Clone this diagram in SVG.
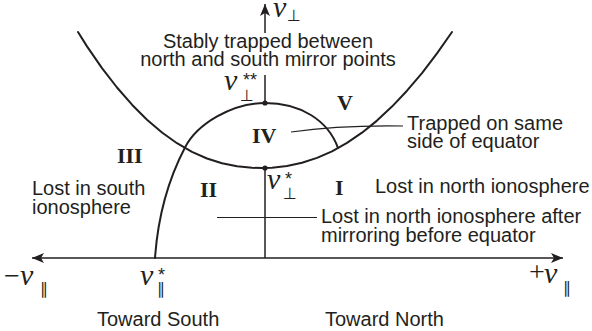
<svg xmlns="http://www.w3.org/2000/svg" width="592" height="331" viewBox="0 0 592 331">
<defs>
<marker id="ah" viewBox="0 0 12 10" refX="12" refY="5" markerWidth="12" markerHeight="10" markerUnits="userSpaceOnUse" orient="auto-start-reverse"><path d="M0,0 L12,5 L0,10 L3,5 z" fill="#231f20"/></marker>
</defs>
<style>
.txt{font-family:"Liberation Sans",Arial,sans-serif;font-size:20px;fill:#231f20}
.rn{font-family:"Liberation Serif","Times New Roman",serif;font-weight:bold;font-size:22px;fill:#231f20}
.m{font-family:"Liberation Serif","Times New Roman",serif;font-size:30px;fill:#231f20}
.v{font-style:italic}
.op{font-style:normal;font-size:28px}
.ast{font-family:"Liberation Sans",Arial,sans-serif;font-style:normal;font-size:18px}
.sym{font-family:"DejaVu Sans",sans-serif;font-style:normal;font-size:16px}
.curve{fill:none;stroke:#231f20;stroke-width:2;stroke-linejoin:round;stroke-linecap:round}
.axis{fill:none;stroke:#231f20;stroke-width:1.5}
.lead{fill:none;stroke:#231f20;stroke-width:1.2}
</style>
<rect width="592" height="331" fill="#ffffff"/>

<g id="connectors">
  <line class="axis" x1="32" y1="258" x2="563" y2="258" marker-start="url(#ah)" marker-end="url(#ah)"/>
  <line class="axis" x1="265" y1="33" x2="265" y2="4" marker-end="url(#ah)"/>
  <line class="axis" x1="265" y1="75" x2="265" y2="103"/>
  <line class="axis" x1="265" y1="168" x2="265" y2="258"/>
  <path class="lead" d="M291,132 Q340,125 403,126"/>
  <line class="lead" x1="217" y1="217.5" x2="317" y2="217.5"/>
</g>

<g id="boundary-parabola">
  <polyline class="curve" points="78,32 87,46.4 102,68.1 117,87.5 132,104.7 147,119.7 162,132.5 177,143.2 192,151.8 207,158.5 222,163.3 237,166.3 252,167.8 262,168 272,167.7 287,166.1 302,162.8 317,157.9 332,151.3 347,142.9 362,132.7 377,120.6 392,106.6 407,90.7 422,73.1 437,53.3 452,32"/>
</g>
<g id="boundary-inner">
  <path class="curve" d="M155,258 C158,215 168,180 185,147.5 C197,124 232,103 265,103 C300,103 328,120 338,148"/>
  <circle cx="265" cy="103" r="2.6" fill="#231f20"/>
  <circle cx="265" cy="168" r="2.6" fill="#231f20"/>
</g>

<g id="axis-labels">
  <text class="m"><tspan class="v" x="273" y="17">v</tspan><tspan class="sym" x="287" y="21">⊥</tspan></text>
  <text class="m"><tspan class="v" x="224" y="90">v</tspan><tspan class="ast" x="243" y="86">**</tspan><tspan class="sym" x="240" y="101">⊥</tspan></text>
  <text class="m"><tspan class="v" x="267" y="189">v</tspan><tspan class="ast" x="285" y="185">*</tspan><tspan class="sym" x="283" y="199">⊥</tspan></text>
  <text class="m"><tspan class="op" x="4" y="285">−</tspan><tspan class="v" x="20" y="285">v</tspan><tspan class="sym" x="40" y="294">∥</tspan></text>
  <text class="m"><tspan class="v" x="140" y="285">v</tspan><tspan class="ast" x="158" y="281">*</tspan><tspan class="sym" x="157" y="294">∥</tspan></text>
  <text class="m"><tspan class="op" x="529" y="281">+</tspan><tspan class="v" x="544" y="283">v</tspan><tspan class="sym" x="563" y="293">∥</tspan></text>
</g>

<g id="region-I"><text class="rn" x="335" y="195">I</text></g>
<g id="region-II"><text class="rn" x="200" y="197">II</text></g>
<g id="region-III"><text class="rn" x="117" y="163">III</text></g>
<g id="region-IV"><text class="rn" x="252" y="143">IV</text></g>
<g id="region-V"><text class="rn" x="337" y="110">V</text></g>

<g id="label-stably">
  <text class="txt" x="268" y="48" text-anchor="middle">Stably trapped between</text>
  <text class="txt" x="268" y="66" text-anchor="middle">north and south mirror points</text>
</g>
<g id="label-trapped-same">
  <text class="txt" x="407" y="130">Trapped on same</text>
  <text class="txt" x="407" y="148">side of equator</text>
</g>
<g id="label-lost-south">
  <text class="txt" x="32" y="195">Lost in south</text>
  <text class="txt" x="32" y="214">ionosphere</text>
</g>
<g id="label-lost-north">
  <text class="txt" x="375" y="193">Lost in north ionosphere</text>
</g>
<g id="label-lost-north-after">
  <text class="txt" x="321" y="223">Lost in north ionosphere after</text>
  <text class="txt" x="321" y="242">mirroring before equator</text>
</g>
<g id="label-south"><text class="txt" x="97" y="326">Toward South</text></g>
<g id="label-north"><text class="txt" x="325" y="326">Toward North</text></g>
</svg>
